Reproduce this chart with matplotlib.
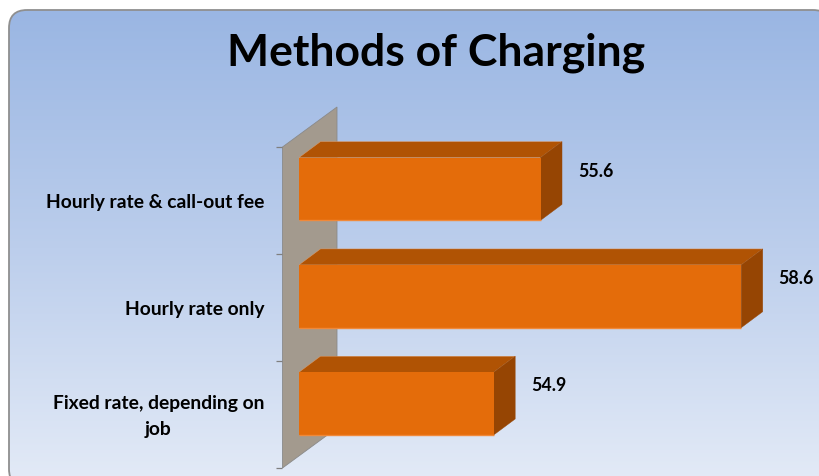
import numpy as np
import matplotlib
matplotlib.use("Agg")
import matplotlib.pyplot as plt
from matplotlib.patches import FancyBboxPatch, Polygon
from matplotlib.colors import LinearSegmentedColormap
from matplotlib.transforms import Affine2D

categories = ["Hourly rate & call-out fee", "Hourly rate only", "Fixed rate, depending on\njob"]
values = [55.6, 58.6, 54.9]
title = "Methods of Charging"

W, H = 820, 476
FONT = "Lato"
FRONT, TOP, SIDE, WALL = "#E46C0A", "#B05304", "#964503", "#A39A8E"

fig = plt.figure(figsize=(W / 100, H / 100), dpi=100, facecolor="white")

def axes_px(x0, y0, x1, y1, **kw):
    return fig.add_axes([x0 / W, 1 - y1 / H, (x1 - x0) / W, (y1 - y0) / H], **kw)

# background panel with vertical gradient and rounded corners
bg = axes_px(0, 0, W, H)
bg.set_xlim(0, W); bg.set_ylim(H, 0); bg.axis("off")
cmap = LinearSegmentedColormap.from_list("panel", ["#9AB6E3", "#BCCEEC", "#E4EBF7"])
im = bg.imshow(np.linspace(0, 1, 256)[:, None], cmap=cmap, aspect="auto", extent=(9, 831, 487, 10), zorder=1)
rounded = FancyBboxPatch((9, 10), 822, 477, boxstyle="round,pad=0,rounding_size=18")
outline = rounded.get_path().to_polygons()[0]
panel = Polygon(outline, closed=True, fc="none", ec="#8F8F8F", lw=1.3, zorder=2)
bg.add_patch(panel)
im.set_clip_path(panel)
bg.set_xlim(0, W); bg.set_ylim(H, 0)
bg.text(436, 53, title, fontsize=32, fontweight="bold", family=FONT, color="black",
        ha="center", va="center", zorder=3)

# category axis sitting on the front edge of the back wall
wall = axes_px(282.5, 147, 337, 468)
wall.patch.set_alpha(0)
wall.set_xlim(0, 1); wall.set_ylim(2.5, -0.5)
for s in wall.spines.values():
    s.set_visible(False)
wall.set_xticks([])
wall.set_yticks([-0.5, 0.5, 1.5, 2.5])
wall.set_yticklabels([])
wall.tick_params(axis="y", which="major", length=4.5, width=0.9, color="#7F7F7F")
wall.set_yticks(range(len(categories)), minor=True)
wall.set_yticklabels(categories, minor=True, fontsize=13.9, fontweight="bold", family=FONT,
                     ha="right", va="center", multialignment="center", linespacing=1.6)
wall.tick_params(axis="y", which="minor", length=0, pad=13.2)
for lbl in wall.get_yticklabels(minor=True):
    lbl.set_transform(lbl.get_transform() + Affine2D().translate(0, -2))
wall.add_patch(Polygon([(0, 1), (1, 1 + 40 / 321), (1, 40 / 321), (0, 0)], transform=wall.transAxes,
                       fc=WALL, ec="#8A8A8A", lw=0.6, clip_on=False))

# bars, on the plane in front of the wall
PX_PER_UNIT = 66.9
BASE = 51.99
ax = axes_px(299, 135.35, 800, 457.25)
ax.patch.set_alpha(0)
ax.axis("off")
ax.set_xlim(BASE, BASE + 501 / PX_PER_UNIT)
ax.set_ylim(2.5, -0.5)
dx, dy = 21.5 / PX_PER_UNIT, 16 / 107.3
BAR_H = 0.585
for i, v in enumerate(values):
    t, b = i - BAR_H / 2, i + BAR_H / 2
    ax.add_patch(Polygon([(BASE, t), (BASE + dx, t - dy), (v + dx, t - dy), (v, t)],
                         fc=TOP, ec="#E0A070", lw=0.3, zorder=2 + i))
    ax.add_patch(Polygon([(v, t), (v + dx, t - dy), (v + dx, b - dy), (v, b)],
                         fc=SIDE, ec=SIDE, lw=0.3, zorder=2 + i))
    ax.barh(i, v - BASE, left=BASE, height=BAR_H, color=FRONT, zorder=3 + i)
    ax.plot([BASE, v], [b, b], color="#F0893A", lw=1, zorder=3 + i, solid_capstyle="butt")
    ax.annotate(f"{v:.1f}", (v, i), xytext=(55, 18), textcoords="offset pixels",
                fontsize=12.8, fontweight="bold", family=FONT, ha="center", va="center", zorder=10,
                annotation_clip=False)

fig.savefig("out.png", dpi=100)
